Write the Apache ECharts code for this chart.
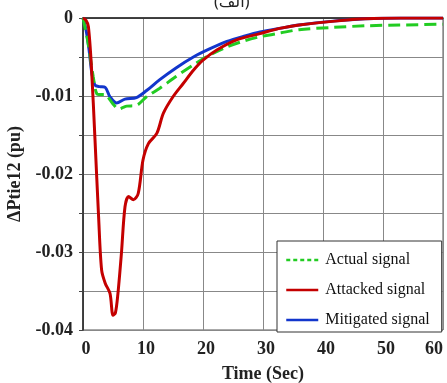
<!DOCTYPE html>
<html><head><meta charset="utf-8">
<script src="https://cdn.jsdelivr.net/npm/echarts@6/dist/echarts.min.js"></script>
<style>html,body{margin:0;padding:0;background:#fff}#c{width:447px;height:383px}</style>
</head><body><div id="c"></div>
<script>
const titleText = "(الف)";
const xTicks = [0, 10, 20, 30, 40, 50, 60];
const yTickLabels = ["0", "-0.01", "-0.02", "-0.03", "-0.04"];
const seriesNames = ["Actual signal", "Attacked signal", "Mitigated signal"];

const actualT = [0, 0.8, 1.7, 2.3, 3.0, 3.7, 4.5, 5.2, 5.9, 6.6, 7.3, 8.9, 10.6, 12.8, 15.5, 18.4, 21, 24, 27, 29.5, 33, 36, 41.7, 47.2, 52.8, 60];
const actualV = [0, -0.003, -0.0075, -0.0097, -0.0098, -0.0098, -0.0105, -0.0112, -0.0117, -0.0115, -0.0113, -0.0112, -0.0101, -0.009, -0.0075, -0.006, -0.0048, -0.0037, -0.0029, -0.0024, -0.0019, -0.0015, -0.0012, -0.001, -0.0009, -0.0008];

const attackedT = [0, 0.5, 0.9, 1.4, 2.0, 2.6, 3.1, 3.7, 4.5, 5.0, 5.4, 5.8, 6.4, 7.0, 7.6, 8.4, 9.2, 10.0, 10.9, 12.3, 13.4, 15.0, 16.7, 18.4, 20.0, 22.3, 25.6, 29.5, 33, 36, 42, 47, 53, 60];
const attackedV = [0, -0.0003, -0.0011, -0.0062, -0.0156, -0.0255, -0.0323, -0.034, -0.0353, -0.0381, -0.0378, -0.0355, -0.0302, -0.0242, -0.0229, -0.0233, -0.0225, -0.0182, -0.0161, -0.0148, -0.0122, -0.0101, -0.0084, -0.0067, -0.0054, -0.0041, -0.0028, -0.002, -0.0013, -0.0009, -0.0004, -0.0001, 0, 0];

const mitigatedT = [0, 0.5, 1.0, 1.5, 2.0, 2.8, 3.7, 4.5, 5.6, 7.0, 8.9, 10.6, 12.8, 15.5, 18.4, 21, 24, 27, 29.5, 33, 36, 41.7, 47, 53, 60];
const mitigatedV = [0, -0.0015, -0.004, -0.0072, -0.0086, -0.0088, -0.0089, -0.0101, -0.0109, -0.0104, -0.0102, -0.0093, -0.0079, -0.0064, -0.005, -0.004, -0.003, -0.0023, -0.0018, -0.0013, -0.0009, -0.0004, -0.0001, 0, 0];

const pair = (t, v) => t.map((x, i) => [x, v[i]]);
const serif = "'Liberation Serif','DejaVu Serif',serif";

const chart = echarts.init(document.getElementById('c'), null, {renderer: 'canvas'});
chart.setOption({
  animation: false,
  backgroundColor: '#fff',
  title: {text: titleText, left: 209, top: -11, textStyle: {fontFamily: "'Noto Sans','DejaVu Sans',sans-serif", fontSize: 16, fontWeight: 'normal', color: '#222'}},
  grid: {left: 83, right: 4, top: 18, bottom: 53, show: true, borderColor: '#555', borderWidth: 1, outerBoundsMode: 'none', containLabel: false},
  legend: {
    orient: 'vertical', left: 277, top: 241,
    padding: [11, 12, 4, 8], itemGap: 14, itemWidth: 32, itemHeight: 14,
    backgroundColor: '#fff', borderColor: '#333', borderWidth: 1, borderRadius: 0,
    textStyle: {fontFamily: serif, fontSize: 16, color: '#111', padding: [0, 0, 0, 2]},
    itemStyle: {opacity: 0},
    data: [
      {name: seriesNames[0], lineStyle: {type: [4, 3], width: 2.5}},
      {name: seriesNames[1], lineStyle: {width: 2.5}},
      {name: seriesNames[2], lineStyle: {width: 2.5}}
    ]
  },
  xAxis: {
    type: 'value', min: 0, max: 60, interval: 10,
    name: 'Time (Sec)', nameLocation: 'middle', nameGap: 35,
    nameTextStyle: {fontFamily: serif, fontSize: 18, fontWeight: 'bold', color: '#222'},
    axisLine: {lineStyle: {color: '#222', width: 1.5}},
    axisTick: {show: false},
    axisLabel: {margin: 10, fontFamily: serif, fontSize: 18, fontWeight: 'bold', color: '#222',
      padding: [0, 0, 0, 6], alignMaxLabel: 'right',
      formatter: v => xTicks.includes(v) ? String(v) : ''},
    splitLine: {lineStyle: {color: '#888', width: 1}}
  },
  yAxis: {
    type: 'value', min: -0.04, max: 0, interval: 0.005,
    name: 'ΔPtie12 (pu)', nameLocation: 'middle', nameGap: 47,
    nameTextStyle: {fontFamily: serif, fontSize: 18, fontWeight: 'bold', color: '#222'},
    axisLine: {show: true, lineStyle: {color: '#222', width: 1.5}},
    axisTick: {show: true, length: 4, lineStyle: {color: '#444'}},
    axisLabel: {margin: 10, fontFamily: serif, fontSize: 18, fontWeight: 'bold', color: '#222',
      formatter: v => {
        const k = Math.round(-v * 100);
        if (Math.abs(-v * 100 - k) < 1e-6) return yTickLabels[k];
        return '';
      }},
    splitLine: {lineStyle: {color: '#888', width: 1}}
  },
  series: [
    {name: seriesNames[0], type: 'line', data: pair(actualT, actualV), showSymbol: false, symbol: 'none', smooth: 0.3, z: 3,
      color: '#22cc22', lineStyle: {color: '#22cc22', width: 3, type: [12, 6]}},
    {name: seriesNames[1], type: 'line', data: pair(attackedT, attackedV), showSymbol: false, symbol: 'none', smooth: 0.3, z: 4,
      color: '#c40000', lineStyle: {color: '#c40000', width: 3}},
    {name: seriesNames[2], type: 'line', data: pair(mitigatedT, mitigatedV), showSymbol: false, symbol: 'none', smooth: 0.3, z: 2,
      color: '#1236cc', lineStyle: {color: '#1236cc', width: 3}}
  ]
});
</script></body></html>
